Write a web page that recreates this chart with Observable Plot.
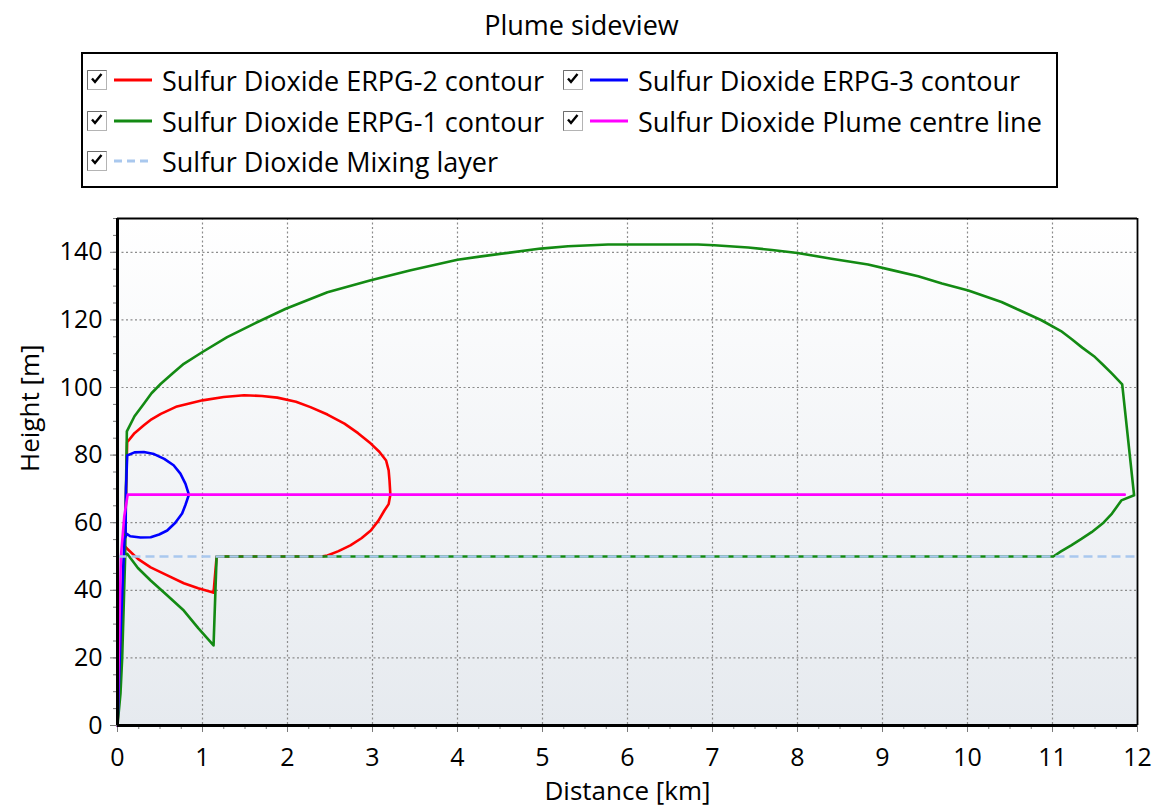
<!DOCTYPE html>
<html>
<head>
<meta charset="utf-8">
<script src="https://cdn.jsdelivr.net/npm/d3@7"></script>
<script src="https://cdn.jsdelivr.net/npm/@observablehq/plot@0.6"></script>
<style>
  body { margin: 0; background: #fff; font-family: "Open Sans", sans-serif; color: #000; }
  #wrap { position: relative; width: 1163px; height: 807px; overflow: hidden; }
  #title { position: absolute; top: 6px; left: 0; width: 1163px; text-align: center; font-size: 27px; line-height: 38px; }
  #legend { position: absolute; left: 81px; top: 52px; width: 977px; height: 136px; box-sizing: border-box; border: 2px solid #000; }
  .item { position: absolute; display: flex; align-items: center; font-size: 27px; white-space: nowrap; height: 38px; }
  .item svg { flex: none; }
  .item span { margin-left: 8px; }
  #chart { position: absolute; left: 0; top: 195px; }
</style>
</head>
<body>
<div id="wrap">
  <div id="title">Plume sideview</div>
  <div id="legend"></div>
  <div id="chart"></div>
</div>
<script>
// Contours of the sulfur dioxide plume: [distance km, height m]
const erpg2 = [
  [0, 0], [0.04, 25], [0.08, 50], [0.1, 68], [0.11, 80], [0.114, 83.8], [0.2, 86.5],
  [0.31, 88.8], [0.4, 90.6], [0.51, 92.2], [0.7, 94.4], [1.0, 96.2], [1.25, 97.2], [1.49, 97.7],
  [1.7, 97.5], [1.88, 97.0], [2.1, 95.8], [2.27, 94.2], [2.47, 92.0], [2.67, 89.3], [2.83, 86.5],
  [2.98, 83.4], [3.08, 81.0], [3.16, 78.4], [3.19, 75.5], [3.2, 72.5], [3.21, 68.3], [3.19, 65.5],
  [3.14, 63.6], [3.07, 60.6], [2.98, 57.7], [2.87, 55.4], [2.74, 53.3], [2.6, 51.6], [2.47, 50.3], [2.4, 50],
  [1.166, 50], [1.13, 39.3], [1.115, 39.4], [0.95, 40.6], [0.78, 42.1], [0.58, 44.5], [0.39, 46.8],
  [0.24, 49.3], [0.114, 52.3], [0.094, 52.8]
];
const erpg3 = [
  [0, 0], [0.04, 30], [0.07, 48], [0.082, 55.2], [0.11, 56.7], [0.15, 56.0], [0.27, 55.6],
  [0.39, 55.7], [0.49, 56.5], [0.585, 57.7], [0.68, 60.0], [0.76, 62.7], [0.8, 65.3], [0.84, 68.3],
  [0.8, 71.5], [0.74, 74.5], [0.66, 77.0], [0.55, 78.9], [0.43, 80.3], [0.31, 80.9],
  [0.2, 80.8], [0.114, 79.9], [0.1, 70], [0.095, 57]
];
const erpg1 = [
  [0, 0], [0.035, 9.4], [0.055, 20], [0.075, 37], [0.09, 50], [0.1, 70], [0.11, 87], [0.2, 91.5],
  [0.31, 95.2], [0.4, 98.3], [0.51, 101.1], [0.65, 104.2], [0.78, 107.0], [1.0, 110.5], [1.29, 114.9],
  [1.61, 118.9], [1.98, 123.3], [2.47, 128.2], [2.98, 131.7], [3.45, 134.7], [4.0, 137.8], [4.28, 138.8],
  [4.98, 141.1], [5.3, 141.8], [5.77, 142.3], [6.83, 142.3], [7.02, 142.1], [7.42, 141.4], [7.7, 140.7],
  [8.0, 139.8], [8.4, 138.1], [8.83, 136.4], [9.1, 134.8], [9.42, 132.9], [9.7, 130.8], [10.01, 128.7],
  [10.4, 125.3], [10.6, 123.0], [10.87, 119.9], [11.1, 116.7], [11.22, 114.4], [11.35, 111.8], [11.5, 109],
  [11.6, 106.6], [11.7, 104.1], [11.82, 100.9], [11.96, 68.1], [11.81, 66.6], [11.7, 62.7], [11.6, 60.0],
  [11.46, 57.2], [11.34, 55.2], [11.22, 53.3], [11.1, 51.5], [11.01, 50], [1.166, 50], [1.13, 23.7],
  [0.95, 28.8], [0.78, 34.0], [0.58, 38.6], [0.39, 42.9], [0.24, 46.6], [0.114, 50.8], [0.09, 50]
];
const centreLine = [[0, 0], [0.015, 21], [0.04, 50], [0.08, 62], [0.12, 68.3], [11.85, 68.3]];
const mixingLayer = [[0, 50], [12, 50]];

// Axis ticks
const majorX = d3.range(0, 13, 1);
const minorX = d3.range(0, 12.001, 0.25);
const majorY = d3.range(0, 141, 20);
const minorY = d3.range(0, 150.001, 5);

// Legend entries
const legendLabels = [
  "Sulfur Dioxide ERPG-2 contour", "Sulfur Dioxide ERPG-3 contour",
  "Sulfur Dioxide ERPG-1 contour", "Sulfur Dioxide Plume centre line",
  "Sulfur Dioxide Mixing layer"
];
const legendColors = ["#ff0000", "#0000ff", "#138a13", "#ff00ff", "#a9c8ee"];
const legendDashed = [false, false, false, false, true];

const red = "#ff0000", blue = "#0000ff", green = "#138a13", magenta = "#ff00ff", mixing = "#a9c8ee";

// Legend
const legend = document.getElementById("legend");
const rowCenters = [26, 67, 107];
const colLeft = [3, 479];
legendLabels.forEach((label, i) => {
  const row = Math.floor(i / 2), col = i % 2;
  const item = document.createElement("div");
  item.className = "item";
  item.style.left = colLeft[col] + "px";
  item.style.top = (rowCenters[row] - 19) + "px";
  const dash = legendDashed[i] ? 'stroke-dasharray="8,5"' : "";
  item.innerHTML =
    `<svg width="68" height="38" viewBox="0 0 68 38">
       <rect x="1.5" y="9.5" width="19" height="19" fill="#fff" stroke="#b4b4b4"/>
       <path d="M1.5 28.5 V9.5 H20.5" fill="none" stroke="#6e6e6e"/>
       <path d="M6 17.5 L9 21 L15.5 13" fill="none" stroke="#000" stroke-width="2.4"/>
       <line x1="28" y1="19" x2="66" y2="19" stroke="${legendColors[i]}" stroke-width="3" ${dash}/>
     </svg><span>${label}</span>`;
  legend.appendChild(item);
});

const lineOpts = {x: d => d[0], y: d => d[1], strokeWidth: 2.6, strokeLinejoin: "round", strokeLinecap: "round"};

const chart = Plot.plot({
  width: 1163,
  height: 612,
  marginTop: 23,
  marginBottom: 82,
  marginLeft: 117,
  marginRight: 26,
  x: {domain: [0, 12]},
  y: {domain: [0, 150]},
  style: {fontFamily: "'Open Sans', sans-serif", fontSize: "25px", color: "#000", background: "transparent", overflow: "visible"},
  marks: [
    Plot.frame({fill: "url(#plotBg)", stroke: null}),
    Plot.gridX(majorX.filter(d => d > 0 && d < 12), {stroke: "#8c8c8c", strokeOpacity: 1, strokeWidth: 1.2, strokeDasharray: "2,2.5"}),
    Plot.gridY(majorY.filter(d => d > 0), {stroke: "#8c8c8c", strokeOpacity: 1, strokeWidth: 1.2, strokeDasharray: "2,2.5"}),
    Plot.line(erpg2, {...lineOpts, stroke: red}),
    Plot.line(erpg1, {...lineOpts, stroke: green}),
    Plot.line(erpg3, {...lineOpts, stroke: blue}),
    Plot.line(centreLine, {...lineOpts, stroke: magenta}),
    Plot.line(mixingLayer, {...lineOpts, stroke: mixing, strokeLinecap: "butt", strokeDasharray: "9,5"}),
    Plot.axisX({ticks: minorX, tickSize: 4, text: null, label: null, stroke: "#7a7a7a"}),
    Plot.axisY({ticks: minorY, tickSize: 4, text: null, label: null, stroke: "#7a7a7a"}),
    Plot.axisX({ticks: majorX, tickSize: 7, tickPadding: 16, tickFormat: d3.format("d"), label: null, stroke: "#7a7a7a", fontSize: 25}),
    Plot.axisY({ticks: majorY, tickSize: 7, tickPadding: 8, tickFormat: d3.format("d"), label: null, stroke: "#7a7a7a", fontSize: 25}),
    Plot.ruleX([12], {stroke: "#000", strokeWidth: 1.8}),
    Plot.ruleY([150], {stroke: "#000", strokeWidth: 1.8}),
    Plot.ruleX([0], {stroke: "#000", strokeWidth: 3}),
    Plot.ruleY([0], {stroke: "#000", strokeWidth: 3}),
    Plot.text(["Distance [km]"], {frameAnchor: "bottom", dy: 74, text: d => d, fontSize: 26}),
    Plot.text(["Height [m]"], {frameAnchor: "left", dx: -87, rotate: -90, text: d => d, fontSize: 26})
  ]
});

// Vertical background shading of the plot area
const ns = "http://www.w3.org/2000/svg";
const defs = document.createElementNS(ns, "defs");
defs.innerHTML =
  `<linearGradient id="plotBg" x1="0" y1="0" x2="0" y2="1">
     <stop offset="0" stop-color="#ffffff"/>
     <stop offset="1" stop-color="#e6eaef"/>
   </linearGradient>`;
chart.insertBefore(defs, chart.firstChild);

document.getElementById("chart").appendChild(chart);
</script>
</body>
</html>
